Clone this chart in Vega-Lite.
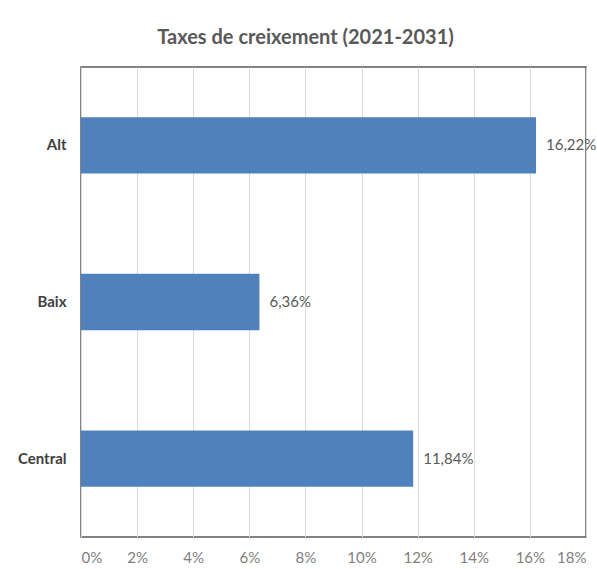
{
  "$schema": "https://vega.github.io/schema/vega-lite/v6.json",
  "width": 505,
  "height": 470,
  "autosize": {"type": "none"},
  "padding": {"left": 81, "top": 67, "right": 11, "bottom": 32},
  "background": "white",
  "config": {
    "locale": {"number": {"decimal": ",", "thousands": ".", "grouping": [3], "currency": ["", " €"]}},
    "view": {"stroke": "#595959", "strokeWidth": 1.5},
    "font": "Lato"
  },
  "title": {
    "text": "Taxes de creixement (2021-2031)",
    "fontSize": 20,
    "fontWeight": "bold",
    "color": "#595959",
    "anchor": "middle",
    "dx": -28,
    "offset": 19,
    "font": "Lato"
  },
  "data": {
    "values": [
      {"escenari": "Alt", "taxa": 0.1622},
      {"escenari": "Baix", "taxa": 0.0636},
      {"escenari": "Central", "taxa": 0.1184}
    ]
  },
  "encoding": {
    "y": {
      "field": "escenari",
      "type": "nominal",
      "sort": ["Alt", "Baix", "Central"],
      "scale": {"paddingInner": 0.64, "paddingOuter": 0.32},
      "axis": {
        "title": null,
        "ticks": false,
        "domain": false,
        "labelFontWeight": "bold",
        "labelColor": "#404040",
        "labelFontSize": 15,
        "labelPadding": 15,
        "labelFont": "Lato"
      }
    },
    "x": {
      "field": "taxa",
      "type": "quantitative",
      "scale": {"domain": [0, 0.18], "nice": false},
      "axis": {
        "title": null,
        "values": [0, 0.02, 0.04, 0.06, 0.08, 0.1, 0.12, 0.14, 0.16, 0.18],
        "format": ".0%",
        "grid": true,
        "gridColor": "#d9d9d9",
        "domain": false,
        "ticks": false,
        "labelColor": "#7f7f7f",
        "labelFontSize": 15,
        "labelPadding": 13,
        "labelFont": "Lato"
      }
    }
  },
  "layer": [
    {"mark": {"type": "bar", "color": "#4f81bd"}},
    {
      "mark": {"type": "text", "align": "left", "baseline": "middle", "dx": 10, "fontSize": 15, "color": "#595959", "font": "Lato"},
      "encoding": {
        "text": {"field": "taxa", "type": "quantitative", "format": ".2%"}
      }
    }
  ]
}
